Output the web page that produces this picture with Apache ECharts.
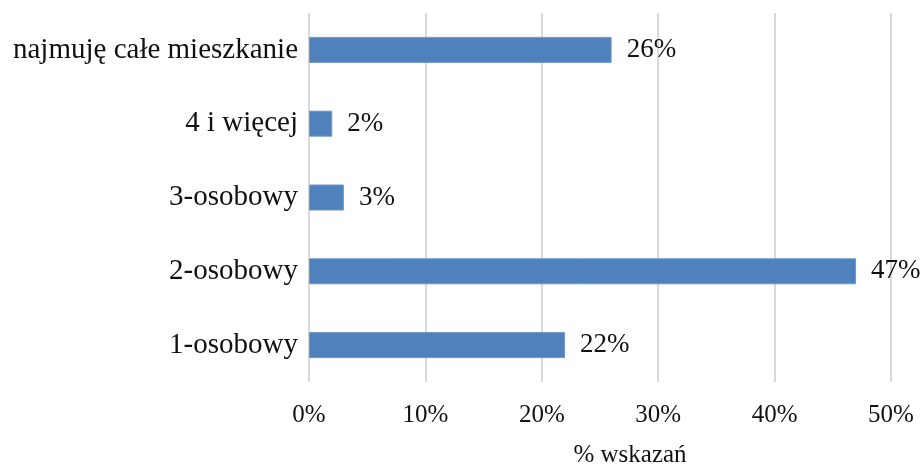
<!DOCTYPE html>
<html>
<head>
<meta charset="utf-8">
<script src="https://cdn.jsdelivr.net/npm/echarts@6/dist/echarts.min.js"></script>
<style>html,body{margin:0;padding:0;background:#fff}#c{width:922px;height:464px}</style>
</head>
<body>
<div id="c"></div>
<script>
var categories = ['1-osobowy', '2-osobowy', '3-osobowy', '4 i więcej', 'najmuję całe mieszkanie'];
var values = [22, 47, 3, 2, 26];
var tickMax = 50;
var tickStep = 10;
var axisTitle = '% wskazań';

var font = "'Liberation Serif', 'Times New Roman', serif";
var chart = echarts.init(document.getElementById('c'));
chart.setOption({
  backgroundColor: '#ffffff',
  animation: false,
  grid: { left: 309, right: 31, top: 13, bottom: 82, containLabel: false, outerBoundsMode: 'none' },
  xAxis: {
    type: 'value',
    min: 0,
    max: tickMax,
    interval: tickStep,
    name: axisTitle,
    nameLocation: 'middle',
    nameGap: 61,
    nameTextStyle: { fontFamily: font, fontSize: 25, color: '#111', padding: [0, 0, 0, 60] },
    axisLine: { show: false },
    axisTick: { show: false },
    axisLabel: { formatter: '{value}%', fontFamily: font, fontSize: 25, color: '#111', margin: 21 },
    splitLine: { show: true, lineStyle: { color: '#d9d9d9', width: 2 } }
  },
  yAxis: {
    type: 'category',
    data: categories,
    axisLine: { show: false },
    axisTick: { show: false },
    axisLabel: { fontFamily: font, fontSize: 29, color: '#111', margin: 11 }
  },
  series: [{
    type: 'bar',
    data: values,
    barWidth: 26,
    itemStyle: { color: '#4f81bd', borderColor: '#6f97c8', borderWidth: 1 },
    label: {
      show: true,
      position: 'right',
      distance: 15,
      formatter: '{c}%',
      fontFamily: font,
      fontSize: 27,
      color: '#111'
    }
  }]
});
</script>
</body>
</html>
